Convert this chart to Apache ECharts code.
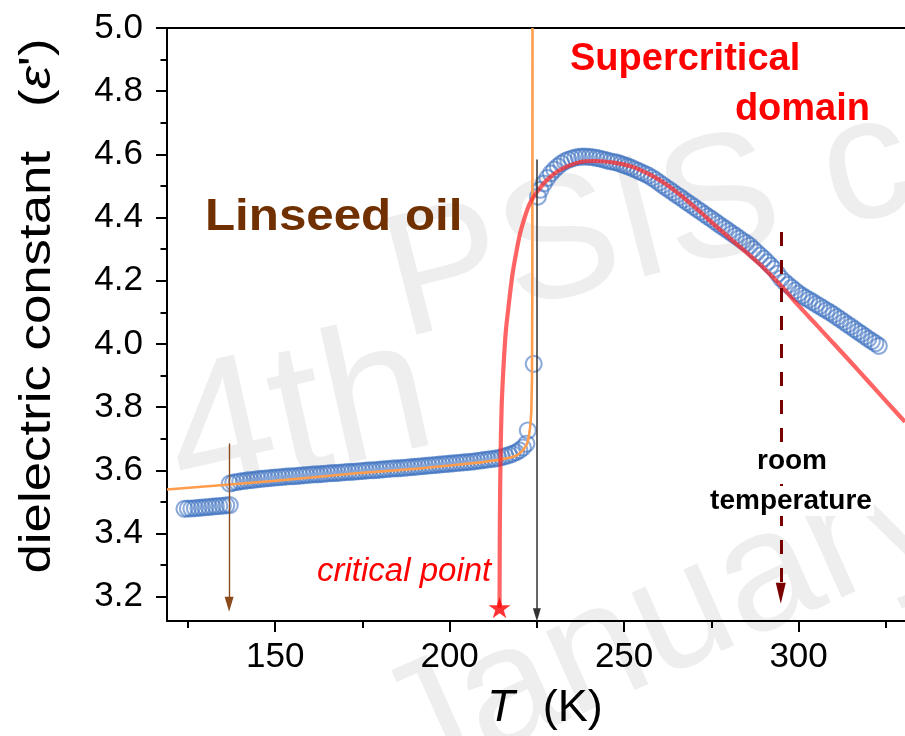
<!DOCTYPE html>
<html>
<head>
<meta charset="utf-8">
<script src="https://cdn.jsdelivr.net/npm/echarts@6/dist/echarts.min.js"></script>
<style>
  html, body { margin: 0; padding: 0; background: #ffffff; }
  #chart { width: 905px; height: 736px; }
</style>
</head>
<body>
<div id="chart"></div>
<script>
// Dielectric constant of linseed oil versus temperature.

// Measured points, low-temperature branch
const tempLow = [124, 125, 126, 127, 128, 129, 130, 131, 132, 133, 134, 135, 136, 137];
const epsLow  = [3.478, 3.479, 3.479, 3.480, 3.481, 3.482, 3.483, 3.484, 3.485, 3.486, 3.487, 3.488, 3.489, 3.490];

// Measured points, liquid branch up to the jump
const tempMid = [137, 138, 139, 140, 141, 142, 143, 144, 145, 146, 147, 148, 149, 150,
  151, 152, 153, 154, 155, 156, 157, 158, 159, 160, 161, 162, 163, 164, 165, 166, 167, 168, 169, 170,
  171, 172, 173, 174, 175, 176, 177, 178, 179, 180, 181, 182, 183, 184, 185, 186, 187, 188, 189, 190,
  191, 192, 193, 194, 195, 196, 197, 198, 199, 200, 201, 202, 203, 204, 205, 206, 207, 208, 209, 210,
  211, 212, 213, 214, 215, 216, 217, 218, 219, 220, 221, 222, 222.4, 224.1];
const epsMid  = [3.558, 3.561, 3.563, 3.565, 3.566, 3.568, 3.569, 3.570, 3.572, 3.573, 3.574, 3.575, 3.576, 3.577,
  3.578, 3.579, 3.580, 3.581, 3.581, 3.582, 3.583, 3.584, 3.585, 3.586, 3.587, 3.587, 3.588, 3.589, 3.590, 3.591, 3.591, 3.592, 3.593, 3.594,
  3.595, 3.595, 3.596, 3.597, 3.598, 3.599, 3.600, 3.600, 3.601, 3.602, 3.603, 3.604, 3.605, 3.606, 3.606, 3.607, 3.608, 3.609, 3.610, 3.611,
  3.612, 3.613, 3.614, 3.615, 3.616, 3.617, 3.618, 3.619, 3.620, 3.621, 3.622, 3.623, 3.624, 3.625, 3.626, 3.627, 3.628, 3.630, 3.631, 3.633,
  3.634, 3.636, 3.637, 3.639, 3.642, 3.645, 3.648, 3.652, 3.657, 3.663, 3.672, 3.684, 3.726, 3.937];

// Measured points, supercritical branch
const tempHigh = [225.3, 226, 227, 228, 229, 230, 231, 232, 233, 234, 235, 236, 237, 238, 239, 240,
  241, 242, 243, 244, 245, 246, 247, 248, 249, 250, 251, 252, 253, 254, 255, 256, 257, 258, 259, 260,
  261, 262, 263, 264, 265, 266, 267, 268, 269, 270, 271, 272, 273, 274, 275, 276, 277, 278, 279, 280,
  281, 282, 283, 284, 285, 286, 287, 288, 289, 290, 291, 292, 293, 294, 295, 296, 297, 298, 299, 300,
  301, 302, 303, 304, 305, 306, 307, 308, 309, 310, 311, 312, 313, 314, 315, 316, 317, 318, 319, 320,
  321, 322, 323];
const epsHigh  = [4.466, 4.488, 4.508, 4.525, 4.540, 4.552, 4.562, 4.571, 4.578, 4.583, 4.587, 4.590, 4.592, 4.593, 4.593, 4.592,
  4.591, 4.589, 4.587, 4.584, 4.581, 4.578, 4.576, 4.574, 4.570, 4.566, 4.562, 4.558, 4.553, 4.548, 4.543, 4.538, 4.533, 4.526, 4.519, 4.511,
  4.503, 4.495, 4.488, 4.480, 4.472, 4.465, 4.457, 4.449, 4.442, 4.434, 4.426, 4.419, 4.411, 4.403, 4.396, 4.388, 4.380, 4.372, 4.365, 4.357,
  4.349, 4.342, 4.334, 4.326, 4.319, 4.311, 4.300, 4.290, 4.280, 4.270, 4.259, 4.248, 4.237, 4.222, 4.207, 4.196, 4.187, 4.178, 4.169, 4.160,
  4.153, 4.146, 4.140, 4.133, 4.126, 4.120, 4.113, 4.106, 4.100, 4.093, 4.085, 4.078, 4.070, 4.062, 4.055, 4.047, 4.039, 4.032, 4.024, 4.016,
  4.009, 4.002, 3.994];

// Fit of the liquid branch (diverges at the transition)
const liquidFitT   = [119, 137, 150, 161.8, 175, 190.5, 200, 209.6, 214, 217.2, 219, 220, 221, 222, 222.5, 222.9, 223.2, 223.4, 223.6, 223.7, 223.75];
const liquidFitEps = [3.539, 3.555, 3.567, 3.579, 3.592, 3.605, 3.615, 3.626, 3.633, 3.640, 3.646, 3.653, 3.663, 3.679, 3.695, 3.721, 3.750, 3.785, 3.890, 4.200, 5.000];

// Fit of the supercritical branch, starting at the critical point
const superFitT   = [214.3, 214.4, 214.6, 214.9, 215.4, 216.1, 217.0, 218.0, 219.1, 220.2, 221.5, 222.8, 224.1, 226.0, 227.9, 230.5, 233.7, 237.5, 242.0,
  247.0, 252.0, 257.0, 261.7, 266.5, 271.3, 276.0, 281.0, 285.0, 288.8, 292.0, 295.5, 300.0, 305.0, 310.0, 315.0, 320.0, 325.0, 330.5];
const superFitEps = [3.165, 3.450, 3.650, 3.800, 3.920, 4.040, 4.130, 4.220, 4.290, 4.350, 4.400, 4.440, 4.466, 4.495, 4.519, 4.543, 4.562, 4.576, 4.579,
  4.574, 4.562, 4.538, 4.508, 4.468, 4.423, 4.376, 4.328, 4.290, 4.253, 4.218, 4.178, 4.121, 4.062, 4.002, 3.942, 3.881, 3.820, 3.753];

// Critical point
const criticalPoint = [214.3, 3.165];

// Marker arrows: [temperature, eps at start, eps at end]
const solidificationArrow = [136.8, 3.685, 3.176];
const transitionArrow     = [225.0, 4.584, 3.143];
const roomTempArrow       = [294.9, 4.354, 3.211];

// Axes
const xMin = 119, xMax = 330.5;
const yMin = 3.123, yMax = 5.0;
const xMajorTicks = [150, 200, 250, 300];
const xMinorTicks = [125, 175, 225, 275, 325];
const xTickLabels = ['150', '200', '250', '300'];
const yMajorTicks = [3.2, 3.4, 3.6, 3.8, 4.0, 4.2, 4.4, 4.6, 4.8, 5.0];
const yMinorTicks = [3.3, 3.5, 3.7, 3.9, 4.1, 4.3, 4.5, 4.7, 4.9];
const yTickLabels = ['3.2', '3.4', '3.6', '3.8', '4.0', '4.2', '4.4', '4.6', '4.8', '5.0'];

const FONT = "'Liberation Sans', Arial, Helvetica, sans-serif";
const pair = (xs, ys) => xs.map((x, i) => [x, ys[i]]);
const labelFor = (ticks, labels) => (v) => {
  const i = ticks.findIndex(t => Math.abs(t - v) < 1e-6);
  return i >= 0 ? labels[i] : '';
};

const circleStyle = {
  color: 'rgba(0,0,0,0)',
  borderColor: 'rgba(55,110,190,0.72)',
  borderWidth: 2.1
};

function arrowLine(a, color, width, type, head) {
  return [
    { coord: [a[0], a[1]], symbol: 'none' },
    { coord: [a[0], a[2]], symbol: 'triangle', symbolSize: head,
      lineStyle: { color: color, width: width, type: type }, itemStyle: { color: color } }
  ];
}

const WATERMARK = '#efeeee';

const chart = echarts.init(document.getElementById('chart'), null, { renderer: 'canvas' });

const option = {
  animation: false,
  backgroundColor: '#ffffff',
  grid: { left: 167, right: 0, top: 28, bottom: 113, show: false },
  xAxis: [
    {
      type: 'value', min: xMin, max: xMax, position: 'bottom',
      axisLine: { lineStyle: { color: '#000', width: 2 } },
      axisTick: { customValues: xMajorTicks, length: 11, lineStyle: { color: '#000', width: 2 } },
      axisLabel: { customValues: xMajorTicks, formatter: labelFor(xMajorTicks, xTickLabels),
        fontFamily: FONT, fontSize: 35, color: '#000', margin: 19 },
      splitLine: { show: false },
      name: '{i|T}{n|(K)}',
      nameLocation: 'middle', nameGap: 65,
      nameTextStyle: {
        padding: [0, 0, 0, 18],
        rich: {
          i: { fontFamily: FONT, fontSize: 45, fontStyle: 'italic', color: '#000', padding: [0, 28, 0, 0] },
          n: { fontFamily: FONT, fontSize: 45, color: '#000' }
        }
      }
    },
    {
      type: 'value', min: xMin, max: xMax, position: 'bottom',
      axisLine: { show: false },
      axisTick: { customValues: xMinorTicks, length: 7, lineStyle: { color: '#000', width: 2 } },
      axisLabel: { show: false },
      splitLine: { show: false }
    },
    {
      type: 'value', min: xMin, max: xMax, position: 'top',
      axisLine: { show: true, lineStyle: { color: '#000', width: 2 } },
      axisTick: { show: false },
      axisLabel: { show: false },
      splitLine: { show: false }
    }
  ],
  yAxis: [
    {
      type: 'value', min: yMin, max: yMax, position: 'left',
      axisLine: { show: true, lineStyle: { color: '#000', width: 2 } },
      axisTick: { show: true, customValues: yMajorTicks, length: 11, lineStyle: { color: '#000', width: 2 } },
      axisLabel: { customValues: yMajorTicks, formatter: labelFor(yMajorTicks, yTickLabels),
        fontFamily: FONT, fontSize: 35, color: '#000', margin: 24 },
      splitLine: { show: false }
    },
    {
      type: 'value', min: yMin, max: yMax, position: 'left',
      axisLine: { show: false },
      axisTick: { show: true, customValues: yMinorTicks, length: 6.5, lineStyle: { color: '#000', width: 2 } },
      axisLabel: { show: false },
      splitLine: { show: false }
    }
  ],
  series: [
    { name: 'low', type: 'scatter', data: pair(tempLow, epsLow), symbol: 'circle', symbolSize: 16, itemStyle: circleStyle, z: 2, silent: true },
    { name: 'liquid', type: 'scatter', data: pair(tempMid, epsMid), symbol: 'circle', symbolSize: 16, itemStyle: circleStyle, z: 2, silent: true },
    { name: 'supercritical', type: 'scatter', data: pair(tempHigh, epsHigh), symbol: 'circle', symbolSize: 16, itemStyle: circleStyle, z: 2, silent: true },
    { name: 'liquid fit', type: 'line', data: pair(liquidFitT, liquidFitEps), showSymbol: false, symbol: 'none',
      lineStyle: { color: '#ff9d4d', width: 2.6 }, z: 3, silent: true },
    { name: 'supercritical fit', type: 'line', data: pair(superFitT, superFitEps), showSymbol: false, symbol: 'none', smooth: 0.25,
      lineStyle: { color: 'rgba(255,40,40,0.72)', width: 4.2 }, z: 4, silent: true },
    { name: 'arrows', type: 'line', data: [], z: 5, silent: true,
      markLine: {
        silent: true, animation: false, label: { show: false },
        symbol: ['none', 'triangle'],
        data: [
          arrowLine(solidificationArrow, '#8a4a1c', 1.4, 'solid', [9, 15]),
          arrowLine(transitionArrow, '#333333', 1.5, 'solid', [8, 13]),
          arrowLine(roomTempArrow, '#7a0000', 3, [14, 14], [10, 21])
        ]
      }
    },
    { name: 'critical point', type: 'scatter', data: [criticalPoint], z: 6, silent: true,
      symbol: 'path://M50,0 L61.8,35.1 L98.9,35.1 L69,57 L80.3,92.7 L50,71 L19.7,92.7 L31,57 L1.1,35.1 L38.2,35.1 Z',
      symbolSize: [22, 21], itemStyle: { color: '#ff0000' } }
  ],
  graphic: [
    // faint background lettering
    { type: 'text', z: -10, x: 300, y: 420, rotation: 0.22, style: { text: '4th', font: '190px ' + FONT, fill: WATERMARK, align: 'center', verticalAlign: 'middle' } },
    { type: 'text', z: -10, x: 650, y: 225, rotation: 0.25, style: { text: 'PSIS c', font: '175px ' + FONT, fill: WATERMARK, align: 'center', verticalAlign: 'middle' } },
    { type: 'text', z: -10, x: 665, y: 625, rotation: 0.42, style: { text: 'January', font: '170px ' + FONT, fill: WATERMARK, align: 'center', verticalAlign: 'middle' } },

    { type: 'text', z: 20, x: 38, y: 306, rotation: Math.PI / 2, scaleX: 1.2,
      style: { text: '{a|dielectric constant}{b|   (}{c|ε}{b|\')}', align: 'center', verticalAlign: 'middle',
        rich: {
          a: { font: '44px ' + FONT, fill: '#000' },
          b: { font: '44px ' + FONT, fill: '#000' },
          c: { font: 'italic 44px ' + FONT, fill: '#000' }
        } } },
    { type: 'text', z: 20, x: 205, y: 218, scaleX: 1.12,
      style: { text: 'Linseed oil', font: 'bold 44px ' + FONT, fill: '#703000', align: 'left', verticalAlign: 'middle' } },
    { type: 'text', z: 20, x: 570, y: 60,
      style: { text: 'Supercritical', font: 'bold 38px ' + FONT, fill: '#ff0000', align: 'left', verticalAlign: 'middle' } },
    { type: 'text', z: 20, x: 870, y: 110,
      style: { text: 'domain', font: 'bold 38px ' + FONT, fill: '#ff0000', align: 'right', verticalAlign: 'middle' } },
    { type: 'text', z: 20, x: 317, y: 572,
      style: { text: 'critical point', font: 'italic 33px ' + FONT, fill: '#ff0000', align: 'left', verticalAlign: 'middle' } },
    { type: 'text', z: 20, x: 792, y: 461,
      style: { text: 'room', font: 'bold 28px ' + FONT, fill: '#000', align: 'center', verticalAlign: 'middle',
        backgroundColor: '#fff', padding: [1, 2] } },
    { type: 'text', z: 20, x: 791, y: 501,
      style: { text: 'temperature', font: 'bold 28px ' + FONT, fill: '#000', align: 'center', verticalAlign: 'middle',
        backgroundColor: '#fff', padding: [1, 2] } }
  ]
};

chart.setOption(option);
</script>
</body>
</html>
